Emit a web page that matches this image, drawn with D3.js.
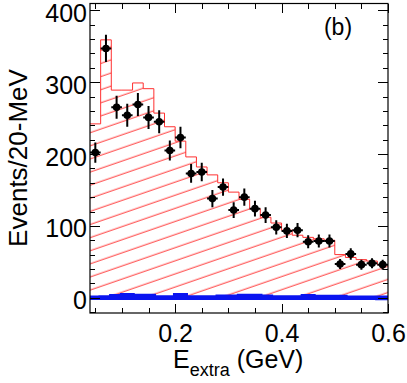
<!DOCTYPE html>
<html>
<head>
<meta charset="utf-8">
<script src="https://cdn.jsdelivr.net/npm/d3@7"></script>
<style>
  body { margin: 0; background: #fff; }
  svg { display: block; }
  text { font-family: "Liberation Sans", Arial, sans-serif; fill: #000; }
</style>
</head>
<body>
<div id="chart"></div>
<script>
// bin low edges (GeV), 20 MeV bins
const binEdges = [0.04, 0.06, 0.08, 0.10, 0.12, 0.14, 0.16, 0.18, 0.20, 0.22, 0.24, 0.26, 0.28, 0.30,
    0.32, 0.34, 0.36, 0.38, 0.40, 0.42, 0.44, 0.46, 0.48, 0.50, 0.52, 0.54, 0.56, 0.58];
const binWidth = 0.02;

// signal MC (red hatched)
const mcValues = [242, 359, 289, 289, 299, 291, 257, 238, 218, 196, 182, 171, 160, 147,
    137, 124, 112, 104, 94, 87, 84, 82, 80, 60, 56, 53, 51, 46];

// background (blue)
const bkgValues = [0, 0.5, 2, 3.5, 2.5, 2.5, 0.5, 0.5, 3.5, 0.5, 0.5, 0.5, 1.5, 1.5,
    2.5, 2.5, 1.5, 0.5, 0.5, 0.5, 2, 1, 1, 1, 0, 0, 0, -0.5];

// data points
const dataValues = [202, 347, 265, 254, 269, 251, 245, 205, 223, 173, 175, 138, 154, 122,
    140, 124, 115, 98, 93, 94, 78, 79, 79, 47, 61, 46, 48, 46];
const dataErrors = [14, 19, 16, 16, 16, 16, 16, 14, 15, 13, 13, 12, 12, 11,
    12, 11, 11, 10, 10, 10, 9, 9, 9, 7, 8, 7, 7, 7];

const xTickLabels = [0.2, 0.4, 0.6];
const xMinorTicks = [0.05, 0.1, 0.15, 0.25, 0.3, 0.35, 0.45, 0.5, 0.55];
const yTickLabels = [0, 100, 200, 300, 400];
const yMinorTicks = [-20, 20, 40, 60, 80, 120, 140, 160, 180, 220, 240, 260, 280, 320, 340, 360, 380, 400];

const width = 407;
const height = 383;
const frameLeft = 90, frameRight = 388, frameTop = 3.5, frameBottom = 313;

const x = d3.scaleLinear().domain([0.04, 0.6]).range([frameLeft, frameRight]);
const y = d3.scaleLinear().domain([-21.3, 409.6]).range([frameBottom, frameTop]);

const svg = d3.select("#chart")
    .append("svg")
    .attr("width", width)
    .attr("height", height);

const defs = svg.append("defs");
defs.append("clipPath").attr("id", "frame")
    .append("rect")
    .attr("x", frameLeft).attr("y", frameTop)
    .attr("width", frameRight - frameLeft).attr("height", frameBottom - frameTop);

const hatch = defs.append("pattern")
    .attr("id", "hatch")
    .attr("patternUnits", "userSpaceOnUse")
    .attr("width", 40)
    .attr("height", 12.4)
    .attr("patternTransform", "rotate(-19)");
hatch.append("line")
    .attr("x1", 0).attr("x2", 40)
    .attr("y1", 6).attr("y2", 6)
    .attr("stroke", "#ff3030")
    .attr("stroke-width", 1);

// step data: each bin low edge plus the last high edge
function steps(values) {
    const pts = binEdges.map((e, i) => ({ x: e, v: values[i] }));
    pts.push({ x: binEdges[binEdges.length - 1] + binWidth, v: values[values.length - 1] });
    return pts;
}

const plot = svg.append("g").attr("clip-path", "url(#frame)");

const mcArea = d3.area()
    .curve(d3.curveStepAfter)
    .x(d => x(d.x))
    .y0(y(0))
    .y1(d => y(d.v));

const mcLine = d3.line()
    .curve(d3.curveStepAfter)
    .x(d => x(d.x))
    .y(d => y(d.v));

plot.append("path")
    .attr("d", mcArea(steps(mcValues)))
    .attr("fill", "url(#hatch)");

plot.append("path")
    .attr("d", mcLine(steps(mcValues)))
    .attr("fill", "none")
    .attr("stroke", "#ff3030")
    .attr("stroke-width", 1);

plot.append("path")
    .attr("d", mcArea(steps(bkgValues)))
    .attr("fill", "#0a14f0")
    .attr("stroke", "#0a14f0")
    .attr("stroke-width", 4.4)
    .attr("stroke-linejoin", "miter");

// data points with error bars
const pts = plot.selectAll(".pt")
    .data(dataValues.map((v, i) => ({ c: binEdges[i] + binWidth / 2, v: v, e: dataErrors[i] })))
    .enter()
    .append("g");

pts.append("line")
    .attr("x1", d => x(d.c)).attr("x2", d => x(d.c))
    .attr("y1", d => y(d.v - d.e)).attr("y2", d => y(d.v + d.e))
    .attr("stroke", "#000").attr("stroke-width", 2);

pts.append("line")
    .attr("x1", d => x(d.c - binWidth / 2)).attr("x2", d => x(d.c + binWidth / 2))
    .attr("y1", d => y(d.v)).attr("y2", d => y(d.v))
    .attr("stroke", "#000").attr("stroke-width", 2);

pts.append("circle")
    .attr("cx", d => x(d.c))
    .attr("cy", d => y(d.v))
    .attr("r", 3.8)
    .attr("fill", "#000");

// axes, ticks inside on all four sides
function addAxis(axis, tx, ty, values, size, labels) {
    const g = svg.append("g")
        .attr("transform", "translate(" + tx + "," + ty + ")")
        .call(axis.tickValues(values).tickSizeInner(size).tickSizeOuter(0)
            .tickFormat(labels ? d3.format("") : () => ""));
    g.select(".domain").remove();
    g.selectAll("line").attr("stroke", "#000").attr("shape-rendering", "crispEdges");
    return g;
}

const xAxis = addAxis(d3.axisBottom(x).tickPadding(11), 0, frameBottom, xTickLabels, -9, true);
xAxis.selectAll("text").attr("font-size", 25).attr("font-family", "Liberation Sans, Arial, sans-serif").attr("fill", "#000");
addAxis(d3.axisBottom(x), 0, frameBottom, xMinorTicks, -5, false);
addAxis(d3.axisTop(x), 0, frameTop, xTickLabels, -9, false);
addAxis(d3.axisTop(x), 0, frameTop, xMinorTicks, -5, false);

const yAxis = addAxis(d3.axisLeft(y).tickPadding(3), frameLeft, 0, yTickLabels, -10, true);
yAxis.selectAll("text").attr("font-size", 25).attr("dy", 11).attr("font-family", "Liberation Sans, Arial, sans-serif").attr("fill", "#000");
addAxis(d3.axisLeft(y), frameLeft, 0, yMinorTicks, -5, false);
addAxis(d3.axisRight(y), frameRight, 0, yTickLabels, -10, false);
addAxis(d3.axisRight(y), frameRight, 0, yMinorTicks, -5, false);

svg.append("rect")
    .attr("x", frameLeft).attr("y", frameTop)
    .attr("width", frameRight - frameLeft).attr("height", frameBottom - frameTop)
    .attr("fill", "none")
    .attr("stroke", "#000")
    .attr("stroke-width", 1.2);

// titles
const xTitle = svg.append("text")
    .attr("x", 173)
    .attr("y", 368)
    .attr("font-size", 25);
xTitle.append("tspan").text("E");
xTitle.append("tspan").attr("font-size", 18).attr("dy", 8).text("extra");
xTitle.append("tspan").attr("dy", -8).text(" (GeV)");

svg.append("text")
    .attr("transform", "translate(27,158) rotate(-90)")
    .attr("text-anchor", "middle")
    .attr("font-size", 26)
    .text("Events/20-MeV");

svg.append("text")
    .attr("x", 338)
    .attr("y", 35)
    .attr("text-anchor", "middle")
    .attr("font-size", 23)
    .text("(b)");
</script>
</body>
</html>
